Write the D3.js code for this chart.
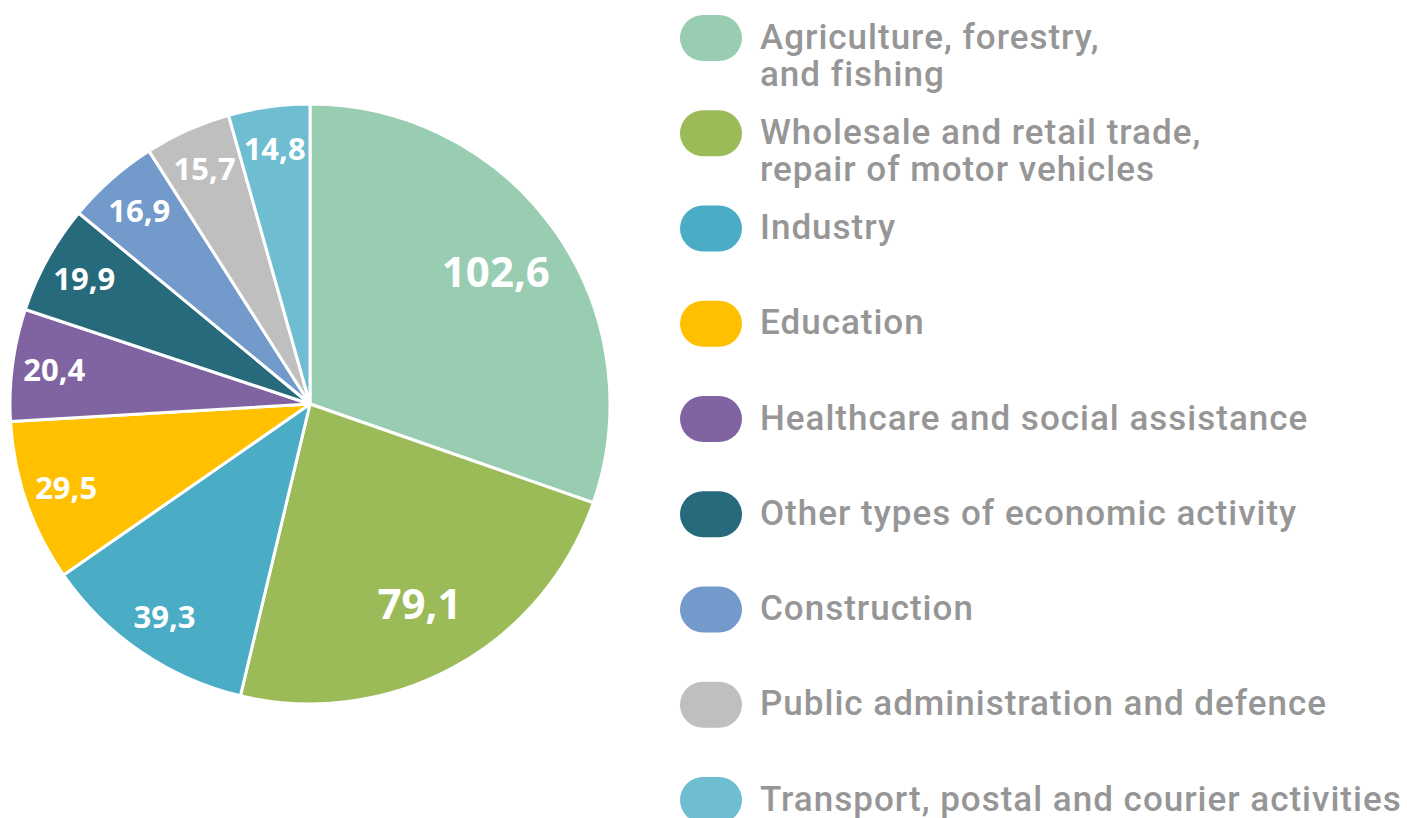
<!DOCTYPE html>
<html>
<head>
<meta charset="utf-8">
<script src="https://cdn.jsdelivr.net/npm/d3@7"></script>
<style>
  html, body { margin: 0; padding: 0; background: #fff; }
  svg { display: block; }
</style>
</head>
<body>
<div id="chart"></div>
<script>
const categories = [
  ["Agriculture, forestry,", "and fishing"],
  ["Wholesale and retail trade,", "repair of motor vehicles"],
  ["Industry"],
  ["Education"],
  ["Healthcare and social assistance"],
  ["Other types of economic activity"],
  ["Construction"],
  ["Public administration and defence"],
  ["Transport, postal and courier activities"]
];
const values = [102.6, 79.1, 39.3, 29.5, 20.4, 19.9, 16.9, 15.7, 14.8];
const colors = ["#99cdb2", "#9bbb59", "#4bacc6", "#ffc000", "#8064a2",
                "#276a7c", "#729aca", "#bfbfbf", "#6fbdd1"];

const width = 1407, height = 818;
const cx = 310, cy = 404, r = 300;

const svg = d3.select("#chart").append("svg")
  .attr("width", width)
  .attr("height", height);

const pie = d3.pie().sort(null).value(d => d)(values);
const arc = d3.arc().innerRadius(0).outerRadius(r);

const g = svg.append("g").attr("transform", `translate(${cx},${cy})`);

g.selectAll("path")
  .data(pie)
  .join("path")
  .attr("d", arc)
  .attr("fill", (d, i) => colors[i])
  .attr("stroke", "#fff")
  .attr("stroke-width", 3)
  .attr("stroke-linejoin", "round");

// big slices get their label further in, as in the original
const fmt = v => String(v).replace(".", ",");
g.selectAll("text")
  .data(pie)
  .join("text")
  .attr("transform", d => {
    const lr = d.value > 50 ? r * 0.76 : r * 0.86;
    const a = (d.startAngle + d.endAngle) / 2;
    return `translate(${Math.sin(a) * lr},${-Math.cos(a) * lr})`;
  })
  .attr("text-anchor", "middle")
  .attr("dy", "0.36em")
  .attr("fill", "#fff")
  .style("font-family", "'Open Sans', sans-serif")
  .style("font-weight", 700)
  .style("font-size", d => d.value > 50 ? "42px" : "31px")
  .text(d => fmt(d.value));

// legend
const legend = svg.append("g");
const rowY = d3.scalePoint().domain(d3.range(categories.length)).range([38, 800]);

const items = legend.selectAll("g")
  .data(categories)
  .join("g")
  .attr("transform", (d, i) => `translate(680,${rowY(i)})`);

items.append("rect")
  .attr("x", 0)
  .attr("y", -23)
  .attr("width", 62)
  .attr("height", 46)
  .attr("rx", 23)
  .attr("fill", (d, i) => colors[i]);

items.append("text")
  .attr("x", 80)
  .attr("y", 0)
  .attr("fill", "#969696")
  .style("font-family", "Roboto, sans-serif")
  .style("font-weight", 500)
  .style("font-size", "35px")
  .style("letter-spacing", "1px")
  .selectAll("tspan")
  .data(d => d)
  .join("tspan")
  .attr("x", 80)
  .attr("dy", (d, i) => i === 0 ? "0.3em" : "1.06em")
  .text(d => d);
</script>
</body>
</html>
